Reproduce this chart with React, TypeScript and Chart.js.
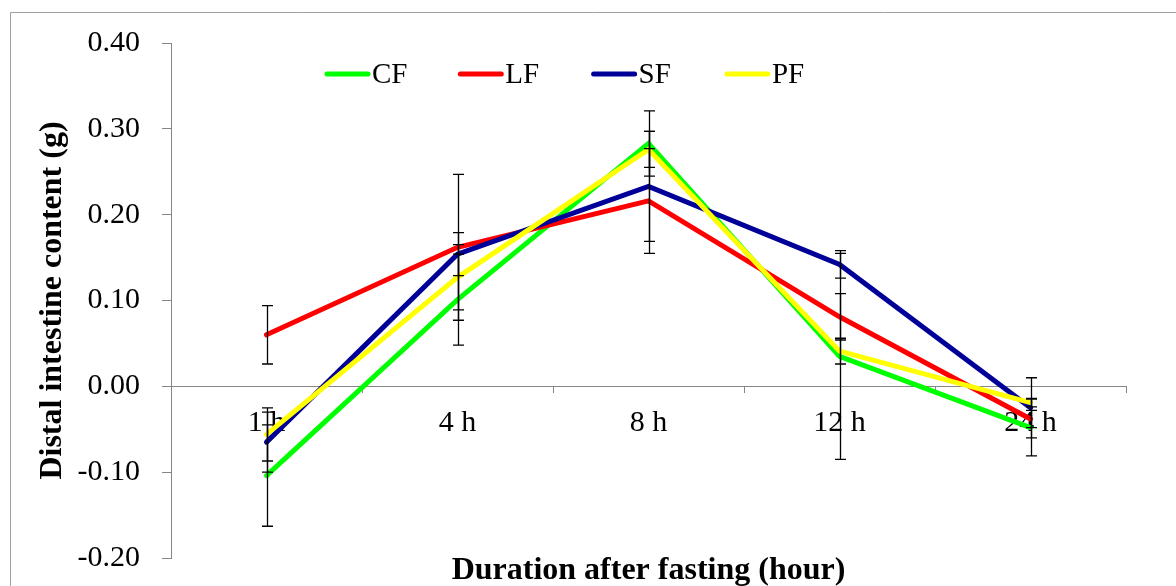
import React, { useEffect, useRef } from 'react';
import { Chart, registerables } from 'chart.js';

Chart.register(...registerables);

const categories = ['1 h', '4 h', '8 h', '12 h', '24 h'];
const seriesNames = ['CF', 'LF', 'SF', 'PF'];
const seriesColors = ['#00FF00', '#FF0000', '#000099', '#FFFF00'];

const cfValues = [-0.104, 0.101, 0.283, 0.035, -0.048];
const lfValues = [0.06, 0.162, 0.216, 0.081, -0.038];
const sfValues = [-0.065, 0.154, 0.233, 0.142, -0.025];
const pfValues = [-0.056, 0.127, 0.276, 0.041, -0.019];

const cfErrors = [0.059, 0.053, 0.038, 0.12, 0.033];
const lfErrors = [0.034, 0.085, 0.061, 0.027, 0.01];
const sfErrors = [0.035, 0.025, 0.064, 0.016, 0.035];
const pfErrors = [0.031, 0.038, 0.021, 0.015, 0.005];

const yMin = -0.2;
const yMax = 0.4;
const yStep = 0.1;

const xTitle = 'Duration after fasting (hour)';
const yTitle = 'Distal intestine content (g)';

export default function App() {
  const ref = useRef<HTMLCanvasElement>(null);

  useEffect(() => {
    const canvas = ref.current;
    if (!canvas) return;
    const serif = "'Liberation Serif', 'Times New Roman', serif";
    const values = [cfValues, lfValues, sfValues, pfValues];
    const errors = [cfErrors, lfErrors, sfErrors, pfErrors];

    const framePlugin = {
      id: 'frame',
      beforeDraw(chart: any) {
        const ctx = chart.ctx;
        ctx.save();
        ctx.strokeStyle = '#a0a0a0';
        ctx.lineWidth = 1;
        ctx.beginPath();
        ctx.moveTo(10.5, chart.height);
        ctx.lineTo(10.5, 12.5);
        ctx.lineTo(chart.width, 12.5);
        ctx.stroke();
        ctx.restore();
      },
    };

    const errorPlugin = {
      id: 'errorBars',
      afterDatasetsDraw(chart: any) {
        const ctx = chart.ctx;
        const yScale = chart.scales.y;
        ctx.save();
        ctx.strokeStyle = '#000000';
        ctx.lineWidth = 1.3;
        chart.data.datasets.forEach((ds: any, i: number) => {
          const meta = chart.getDatasetMeta(i);
          const errs = errors[i];
          meta.data.forEach((pt: any, j: number) => {
            const v = ds.data[j];
            const e = errs[j];
            const x = Math.round(pt.x) + 0.5;
            const top = yScale.getPixelForValue(v + e);
            const bot = yScale.getPixelForValue(v - e);
            ctx.beginPath();
            ctx.moveTo(x, top);
            ctx.lineTo(x, bot);
            ctx.moveTo(x - 5.5, top);
            ctx.lineTo(x + 5.5, top);
            ctx.moveTo(x - 5.5, bot);
            ctx.lineTo(x + 5.5, bot);
            ctx.stroke();
          });
        });
        ctx.restore();
      },
    };

    const legendPlugin = {
      id: 'lineLegend',
      afterDraw(chart: any) {
        const ctx = chart.ctx;
        const area = chart.chartArea;
        const startX = area.left + 154;
        const pitch = 133.3;
        const y = 74;
        ctx.save();
        chart.data.datasets.forEach((ds: any, i: number) => {
          const x0 = startX + pitch * i;
          ctx.strokeStyle = ds.borderColor;
          ctx.lineWidth = 5;
          ctx.lineCap = 'round';
          ctx.beginPath();
          ctx.moveTo(x0 + 2, y);
          ctx.lineTo(x0 + 43, y);
          ctx.stroke();
          ctx.fillStyle = '#000000';
          ctx.font = `29px ${serif}`;
          ctx.textAlign = 'left';
          ctx.textBaseline = 'middle';
          ctx.fillText(ds.label, x0 + 47, y + 1);
        });
        ctx.restore();
      },
    };

    const chart = new Chart(canvas, {
      type: 'line',
      data: {
        labels: categories,
        datasets: seriesNames.map((name, i) => ({
          label: name,
          data: values[i],
          borderColor: seriesColors[i],
          backgroundColor: seriesColors[i],
          borderWidth: 5,
          borderCapStyle: 'round' as const,
          pointRadius: 0,
          pointHoverRadius: 0,
          tension: 0,
          fill: false,
          order: seriesNames.length - 1 - i,
        })),
      },
      options: {
        animation: false,
        responsive: false,
        devicePixelRatio: 1,
        events: [],
        layout: { padding: { left: 0, top: 43, right: 50, bottom: 2.4 } },
        plugins: {
          legend: { display: false },
          tooltip: { enabled: false },
          title: {
            display: true,
            position: 'bottom',
            fullSize: false,
            text: xTitle,
            color: '#000000',
            font: { family: serif, size: 32, weight: 'bold', lineHeight: 0.8 },
            padding: { top: 0, bottom: 0 },
          },
        },
        scales: {
          x: {
            type: 'category',
            position: { y: 0 } as any,
            offset: true,
            grid: {
              offset: true,
              drawOnChartArea: false,
              drawTicks: true,
              tickLength: 6,
              tickColor: '#868686',
              tickWidth: 1,
            },
            border: { display: true, color: '#868686', width: 1 },
            ticks: {
              color: '#000000',
              font: { family: serif, size: 30 },
              padding: 13,
              maxRotation: 0,
              autoSkip: false,
            },
            afterFit(scale: any) {
              scale.height = 0;
              scale.paddingTop = 0;
              scale.paddingBottom = 0;
            },
          },
          y: {
            type: 'linear',
            position: 'left',
            min: yMin,
            max: yMax,
            grid: {
              drawOnChartArea: false,
              drawTicks: true,
              tickLength: 9,
              tickColor: '#868686',
              tickWidth: 1,
            },
            border: { display: true, color: '#868686', width: 1 },
            ticks: {
              stepSize: yStep,
              color: '#000000',
              font: { family: serif, size: 30 },
              padding: 22,
              callback: (v: any) => Number(v).toFixed(2),
            },
            title: {
              display: true,
              text: yTitle,
              color: '#000000',
              font: { family: serif, size: 32, weight: 'bold', lineHeight: 1.2 },
              padding: { top: 34, bottom: 0 },
            },
            afterFit(scale: any) {
              scale.width = 171;
              scale.paddingTop = 0;
              scale.paddingBottom = 0;
            },
          },
        },
      },
      plugins: [framePlugin, errorPlugin, legendPlugin],
    });

    return () => {
      chart.destroy();
    };
  }, []);

  return (
    <div style={{ position: 'fixed', left: 0, top: 0, width: 1176, height: 586, background: '#ffffff' }}>
      <canvas ref={ref} width={1176} height={586} style={{ display: 'block', width: 1176, height: 586 }} />
    </div>
  );
}
